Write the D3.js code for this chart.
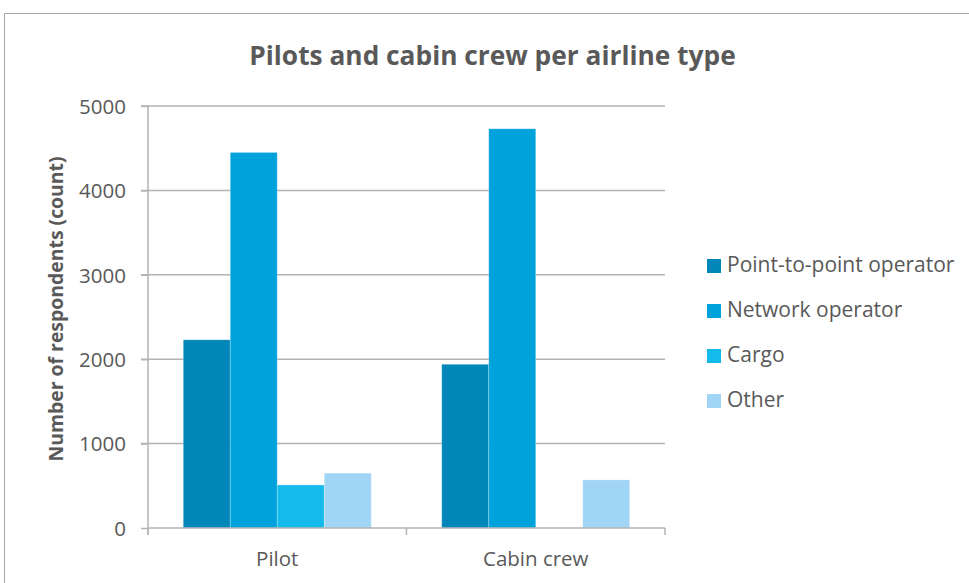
<!DOCTYPE html>
<html><head><meta charset="utf-8">
<script src="https://cdn.jsdelivr.net/npm/d3@7"></script>
<style>body{margin:0;background:#fff;font-family:"Open Sans",sans-serif}</style>
</head><body>
<svg id="c" width="969" height="583"></svg>
<script>
const categories = ["Pilot", "Cabin crew"];
const seriesNames = ["Point-to-point operator", "Network operator", "Cargo", "Other"];
const pointToPoint = [2230, 1940];
const network = [4450, 4730];
const cargo = [510, 0];
const other = [650, 570];
const yTicks = [0, 1000, 2000, 3000, 4000, 5000];
const colors = ["#0086b8", "#00a2dc", "#13bbec", "#a1d5f5"];

const series = [pointToPoint, network, cargo, other];
const svg = d3.select("#c");
const textCol = "#595959";
const gridCol = "#b3b3b3";

// chart border
svg.append("rect").attr("x", 4.5).attr("y", 13.5).attr("width", 980).attr("height", 600)
  .attr("fill", "none").attr("stroke", "#a6a6a6").attr("stroke-width", 1);

const m = {left: 148, right: 665, top: 106, bottom: 528};
const x0 = d3.scaleBand().domain(categories).range([m.left, m.right]).paddingInner(0).paddingOuter(0);
const y = d3.scaleLinear().domain([0, 5000]).range([m.bottom, m.top]);
const gap = 1.5; // Excel gap width 150%
const x1 = d3.scaleBand().domain(seriesNames)
  .range([0, x0.bandwidth()]).paddingInner(0).paddingOuter(gap / 2);

// gridlines
svg.append("g").selectAll("line").data(yTicks.filter(d => d > 0)).join("line")
  .attr("x1", m.left - 7).attr("x2", m.right)
  .attr("y1", d => y(d)).attr("y2", d => y(d))
  .attr("stroke", gridCol).attr("stroke-width", 1.5);

// bars
const groups = svg.append("g").selectAll("g").data(categories).join("g")
  .attr("transform", c => `translate(${x0(c)},0)`);
groups.selectAll("rect").data((c, i) => seriesNames.map((s, j) => ({s, j, v: series[j][i]})).filter(d => d.v > 0))
  .join("rect")
  .attr("x", d => x1(d.s)).attr("width", x1.bandwidth())
  .attr("y", d => y(d.v)).attr("height", d => y(0) - y(d.v))
  .attr("fill", d => colors[d.j])
  .attr("stroke", "rgba(255,255,255,0.35)").attr("stroke-width", 0.75);

// y axis
const yAxis = d3.axisLeft(y).tickValues(yTicks).tickSize(7).tickPadding(15).tickFormat(d3.format("d"));
const gy = svg.append("g").attr("transform", `translate(${m.left},0)`).call(yAxis);
gy.select(".domain").attr("stroke", gridCol).attr("stroke-width", 1.5).attr("d", `M0,${m.top}V${m.bottom + 7}`);
gy.selectAll(".tick line").attr("stroke", gridCol).attr("stroke-width", 1.5);
gy.selectAll("text").attr("fill", textCol).attr("dy", "0.36em")
  .style("font-size", "20.5px").style("font-family", "Open Sans");

// x axis
const gx = svg.append("g").attr("transform", `translate(0,${m.bottom})`);
gx.append("line").attr("x1", m.left).attr("x2", m.right).attr("stroke", gridCol).attr("stroke-width", 1.5);
const bounds = [m.left, ...categories.map(c => x0(c) + x0.bandwidth())];
gx.selectAll(".tk").data(bounds).join("line").attr("class", "tk")
  .attr("x1", d => d).attr("x2", d => d).attr("y1", 0).attr("y2", 7)
  .attr("stroke", gridCol).attr("stroke-width", 1.5);
gx.selectAll("text").data(categories).join("text")
  .attr("x", c => x0(c) + x0.bandwidth() / 2).attr("y", 38)
  .attr("text-anchor", "middle").attr("fill", textCol)
  .style("font-size", "20.5px").text(c => c);

// title
svg.append("text").attr("x", 492.5).attr("y", 65).attr("text-anchor", "middle")
  .attr("fill", textCol).style("font-size", "26.3px").style("font-weight", "bold")
  .text("Pilots and cabin crew per airline type");

// y axis title
svg.append("text").attr("transform", `translate(63,309) rotate(-90)`)
  .attr("text-anchor", "middle").attr("fill", textCol)
  .style("font-size", "19.4px").style("font-weight", "bold")
  .text("Number of respondents (count)");

// legend
const lg = svg.append("g").selectAll("g").data(seriesNames).join("g")
  .attr("transform", (d, i) => `translate(707,${266 + i * 45})`);
lg.append("rect").attr("x", 0).attr("y", -7).attr("width", 14).attr("height", 14)
  .attr("fill", (d, i) => colors[i]);
lg.append("text").attr("x", 20).attr("y", 6).attr("fill", textCol)
  .style("font-size", "21px").text(d => d);
</script>
</body></html>
